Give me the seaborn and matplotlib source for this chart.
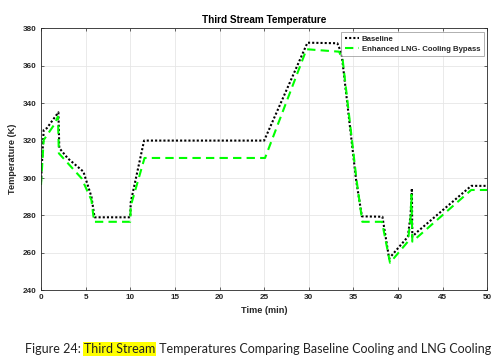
import matplotlib
matplotlib.use("Agg")
import matplotlib.pyplot as plt
import seaborn as sns
import numpy as np

# ---- data ----
t_base = [0, 0.3, 0.65, 1.95, 2.05, 3.0, 4.75, 5.65, 6.0, 10.0, 10.05, 11.55,
          25.0, 29.85, 33.2, 33.67, 35.3, 35.95, 38.25, 39.0, 41.1, 41.4,
          41.55, 41.6, 42.05, 48.2, 50.0]
T_base = [298, 325.6, 326.6, 335.1, 316, 310.5, 303.4, 290, 279, 279, 287, 320,
          320, 372.3, 372, 366.6, 299, 279.5, 279.3, 257, 268.6, 280,
          294.5, 268.6, 270.8, 295.8, 295.8]

t_enh = [0, 0.3, 1.45, 1.9, 2.0, 4.55, 5.65, 5.95, 10.0, 10.05, 11.6,
         25.1, 29.75, 33.4, 33.8, 35.35, 36.0, 38.2, 39.1, 41.1, 41.4,
         41.5, 41.6, 48.2, 50.0]
T_enh = [296.3, 320.3, 328.3, 332.8, 313.2, 299.8, 288.2, 276.6, 276.6, 285, 310.7,
         310.7, 368.8, 367.5, 363, 299, 276.6, 276.6, 254.7, 266, 278,
         291, 266, 293.6, 293.6]

series_names = ["Baseline", "Enhanced LNG- Cooling Bypass"]
x_ticks = [0, 5, 10, 15, 20, 25, 30, 35, 40, 45, 50]
y_ticks = [240, 260, 280, 300, 320, 340, 360, 380]

title = "Third Stream Temperature"
xlabel = "Time (min)"
ylabel = "Temperature (K)"
caption_parts = ["Figure 24: ", "Third Stream", " Temperatures Comparing Baseline Cooling and LNG Cooling"]

# ---- style ----
sns.set_theme(style="white")
plt.rcParams["font.family"] = ["Liberation Sans", "DejaVu Sans"]

fig = plt.figure(figsize=(5, 3.64), dpi=100)
ax = fig.add_axes([0.082, 0.2025, 0.8926, 0.7198])

sns.lineplot(x=t_base, y=T_base, ax=ax, estimator=None, sort=False,
             color="black", linestyle=(0, (1, 1)), linewidth=1.5, label=series_names[0])
sns.lineplot(x=t_enh, y=T_enh, ax=ax, estimator=None, sort=False,
             color="#00ff00", linestyle=(0, (4, 2.5)), linewidth=1.5, label=series_names[1])

ax.set_xlim(0, 50)
ax.set_ylim(240, 380)
ax.set_xticks(x_ticks)
ax.set_yticks(y_ticks)
ax.grid(True, color="#e6e6e6", linewidth=0.6)
ax.set_axisbelow(True)
for s in ax.spines.values():
    s.set_color("#262626")
    s.set_linewidth(0.6)
ax.tick_params(axis="both", which="major", direction="in", length=2.5, width=0.5,
               labelsize=5.9, colors="#262626", pad=3, top=True, right=True,
               bottom=True, left=True, labeltop=False, labelright=False)
for lab in ax.get_xticklabels() + ax.get_yticklabels():
    lab.set_fontweight("bold")

ax.set_title(title, fontsize=7.2, fontweight="bold", color="black", pad=4)
ax.set_xlabel(xlabel, fontsize=6.6, fontweight="bold", color="#262626", labelpad=3)
ax.set_ylabel(ylabel, fontsize=6.6, fontweight="bold", color="#262626", labelpad=4)

leg = ax.legend(loc="upper right", fontsize=5.6, frameon=True, fancybox=False,
                handlelength=1.9, handletextpad=0.3, borderpad=0.45, labelspacing=0.3,
                borderaxespad=0.45)
leg.get_frame().set_edgecolor("#8c8c8c")
leg.get_frame().set_linewidth(0.6)
for txt in leg.get_texts():
    txt.set_fontweight("bold")

# caption with highlighted part
cap_font = ["Lato", "DejaVu Sans"]
cap_size = 9.0
t1 = fig.text(0.05, 0.025, caption_parts[0], fontsize=cap_size, family=cap_font, color="#222222",
              va="bottom", ha="left")
t2 = fig.add_artist(plt.Annotation(caption_parts[1], xy=(1, 0), xycoords=t1,
                                   va="bottom", ha="left", fontsize=cap_size, family=cap_font,
                                   color="#222222",
                                   bbox=dict(facecolor="#ffff00", edgecolor="none", pad=0.6)))
t3 = fig.add_artist(plt.Annotation(caption_parts[2], xy=(1, 0), xycoords=t2,
                                   va="bottom", ha="left", fontsize=cap_size, family=cap_font,
                                   color="#222222"))

fig.savefig("out.png", dpi=100)
